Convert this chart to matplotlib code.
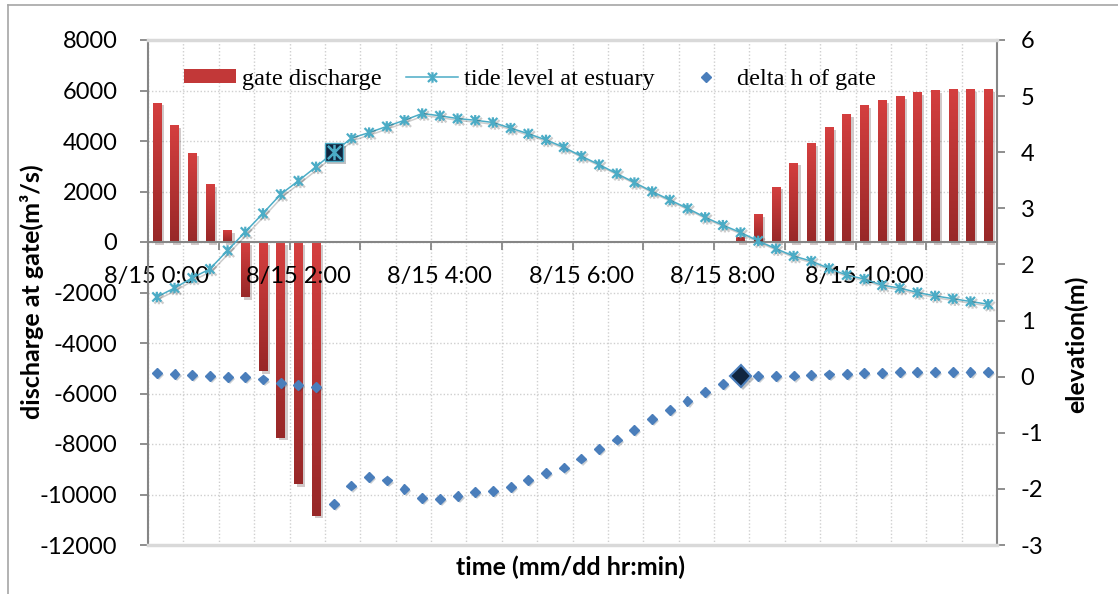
import numpy as np
import matplotlib
matplotlib.use("Agg")
import matplotlib.pyplot as plt
import matplotlib.patheffects as pe
from matplotlib.colors import LinearSegmentedColormap
from matplotlib.font_manager import FontProperties
from matplotlib.lines import Line2D
from matplotlib.patches import Patch
from matplotlib.path import Path

plt.rcParams['font.family'] = ['Lato', 'DejaVu Sans']
plt.rcParams['axes.unicode_minus'] = False

# 15-minute steps from 8/15 0:00 to 8/15 11:45
tick_labels = ["8/15 0:00", "8/15 2:00", "8/15 4:00", "8/15 6:00", "8/15 8:00", "8/15 10:00"]
label_every = 8

# gate discharge (m3/s), left axis
gate_q = [5520, 4630, 3530, 2300, 475, -2170, -5100, -7750, -9580, -10840,
          0, 0, 0, 0, 0, 0, 0, 0, 0, 0, 0, 0, 0, 0, 0, 0, 0, 0, 0, 0, 0, 0, 0,
          190, 1110, 2190, 3140, 3920, 4550, 5070, 5430, 5620, 5780, 5940,
          6010, 6060, 6060, 6060]

# tide level at estuary (m), right axis
tide = [1.42, 1.58, 1.76, 1.92, 2.25, 2.58, 2.91, 3.25, 3.49, 3.74,
        4.00, 4.25, 4.35, 4.46, 4.57, 4.69, 4.65, 4.60, 4.57, 4.53,
        4.43, 4.33, 4.22, 4.09, 3.93, 3.78, 3.62, 3.46, 3.30, 3.15,
        3.00, 2.84, 2.70, 2.57, 2.42, 2.28, 2.15, 2.06, 1.93, 1.81,
        1.74, 1.63, 1.58, 1.50, 1.44, 1.39, 1.34, 1.29]

# delta h of gate (m), right axis
delta_h = [0.07, 0.05, 0.03, 0.01, 0.00, 0.00, -0.05, -0.11, -0.15, -0.19,
           -2.27, -1.94, -1.79, -1.85, -2.00, -2.16, -2.18, -2.12, -2.06, -2.04,
           -1.96, -1.84, -1.72, -1.62, -1.46, -1.29, -1.12, -0.95, -0.76, -0.60,
           -0.44, -0.27, -0.13, 0.01, 0.01, 0.01, 0.02, 0.03, 0.04, 0.05,
           0.07, 0.07, 0.08, 0.08, 0.08, 0.08, 0.08, 0.08]

tide_mark = 10    # highlighted tide point
delta_mark = 33   # highlighted delta h point

cyan = "#4bacc6"
blue = "#4a7ebb"
navy = "#10253f"
axis_gray = "#868686"
grid_gray = "#cfcfcf"

x = np.arange(len(gate_q))

fig = plt.figure(figsize=(11.18, 5.94), dpi=100)
ax = fig.add_axes([148 / 1118, 49 / 594, 849 / 1118, 505 / 594])
ax2 = ax.twinx()

# bars with a vertical red gradient
bars = ax.bar(x, gate_q, width=0.47, color="#9c2a2a", zorder=2,
              path_effects=[pe.SimplePatchShadow(offset=(2, -2), alpha=0.22), pe.Normal()])
grad = np.linspace(0, 1, 64).reshape(-1, 1)
bar_cmap = LinearSegmentedColormap.from_list("bar", ["#982828", "#d43f3f"])
for rect in bars:
    h = rect.get_height()
    if h == 0:
        continue
    x0, y0, w = rect.get_x(), rect.get_y(), rect.get_width()
    im = ax.imshow(grad, cmap=bar_cmap, origin="lower", aspect="auto", zorder=2.1,
                   extent=[x0, x0 + w, min(y0, y0 + h), max(y0, y0 + h)])
    im.set_clip_path(rect)

ax.set_xlim(-0.5, len(gate_q) - 0.5)
ax.set_ylim(-12000, 8000)
ax.set_yticks(np.arange(-12000, 8001, 2000))
ax2.set_ylim(-3, 6)
ax2.set_yticks(np.arange(-3, 7, 1))

# star marker: an x crossed by a vertical bar
star = Path([(-1, -1), (1, 1), (-1, 1), (1, -1), (0, -1.15), (0, 1.15)],
            [Path.MOVETO, Path.LINETO, Path.MOVETO, Path.LINETO, Path.MOVETO, Path.LINETO])

ax2.plot(x, tide, color=cyan, lw=1.1, marker=star, ms=7.5, mew=1.6, zorder=3,
         path_effects=[pe.SimpleLineShadow(offset=(1.5, -1.5), alpha=0.2), pe.Normal()])
ax2.plot(x[tide_mark], tide[tide_mark], marker="s", ms=13, mfc=navy, mec=cyan, mew=1.0,
         zorder=4, path_effects=[pe.SimplePatchShadow(offset=(2, -2), alpha=0.25), pe.Normal()])
ax2.plot(x[tide_mark], tide[tide_mark], marker=star, ms=11, mec=cyan, mew=1.8, zorder=5)

ax2.plot(x, delta_h, ls="none", marker="D", ms=5, color=blue, zorder=3,
         path_effects=[pe.SimplePatchShadow(offset=(1.5, -1.5), alpha=0.22), pe.Normal()])
ax2.plot(x[delta_mark], delta_h[delta_mark], ls="none", marker="D", ms=11, mfc=navy,
         mec=blue, mew=1.5, zorder=4,
         path_effects=[pe.SimplePatchShadow(offset=(2, -2), alpha=0.25), pe.Normal()])

# category axis crossing at zero
ax.spines["bottom"].set_position(("data", 0))
for s in ("bottom", "left"):
    ax.spines[s].set_color(axis_gray)
    ax.spines[s].set_linewidth(1.5)
ax.spines["top"].set_visible(False)
ax.spines["right"].set_visible(False)
ax2.spines["left"].set_visible(False)
ax2.spines["right"].set_color(axis_gray)
ax2.spines["right"].set_linewidth(1.5)
for s in ("top", "bottom"):
    ax2.spines[s].set_color("#d9d9d9")
    ax2.spines[s].set_linewidth(2.5)

ax.set_xticks(np.arange(-0.5, len(gate_q), 4))
ax.set_xticks(np.arange(-0.5, len(gate_q), 2), minor=True)
ax.tick_params(axis="x", which="major", direction="out", length=6, width=1.3,
               color=axis_gray, labelbottom=False)
ax.tick_params(axis="x", which="minor", length=0)
ax.grid(axis="x", which="both", color=grid_gray, lw=1.0, linestyle=(0, (1, 1.5)))
ax.grid(axis="y", which="major", color=grid_gray, lw=1.0, linestyle=(0, (1, 1.5)))
ax.set_axisbelow(True)

ax.tick_params(axis="y", direction="out", length=6, width=1.3, color=axis_gray,
               labelsize=17, pad=16)
ax2.tick_params(axis="y", direction="out", length=6, width=1.3, color=axis_gray,
                labelsize=17, pad=11)

for k, lab in enumerate(tick_labels):
    ax.annotate(lab, xy=(k * label_every, 0), xytext=(0, -24.5), textcoords="offset points",
                ha="center", va="center", fontsize=17, zorder=2.5)

fig.text(32 / 1118, 1 - 292 / 594, "discharge at gate(m³/s)", rotation=90,
         ha="center", va="center", fontsize=18, fontweight="bold")
fig.text(1076 / 1118, 1 - 344 / 594, "elevation(m)", rotation=90,
         ha="center", va="center", fontsize=18, fontweight="bold")
fig.text(570 / 1118, 1 - 567 / 594, "time (mm/dd hr:min)",
         ha="center", va="center", fontsize=18, fontweight="bold")

handles = [Patch(facecolor="#c23838"),
           Line2D([], [], color=cyan, lw=1.1, marker=star, ms=7.5, mew=1.6),
           Line2D([], [], ls="none", marker="D", ms=5, color=blue)]
labels = ["gate discharge", "tide level at estuary", "delta h of gate"]
fig.legend(handles, labels, loc="center left", bbox_to_anchor=(184 / 1118, 1 - 79 / 594),
           ncol=3, frameon=False, prop=FontProperties(family="Liberation Serif", size=17.5),
           handlelength=2.14, handleheight=0.52, handletextpad=0.23, columnspacing=1.03,
           borderpad=0, borderaxespad=0)

# outer chart frame
fig.add_artist(Line2D([8 / 1118, 8 / 1118], [0, 1 - 5 / 594], transform=fig.transFigure,
                      color="#a6a6a6", lw=1.2))
fig.add_artist(Line2D([8 / 1118, 1], [1 - 5 / 594, 1 - 5 / 594], transform=fig.transFigure,
                      color="#a6a6a6", lw=1.2))

fig.savefig("out.png", dpi=100)
